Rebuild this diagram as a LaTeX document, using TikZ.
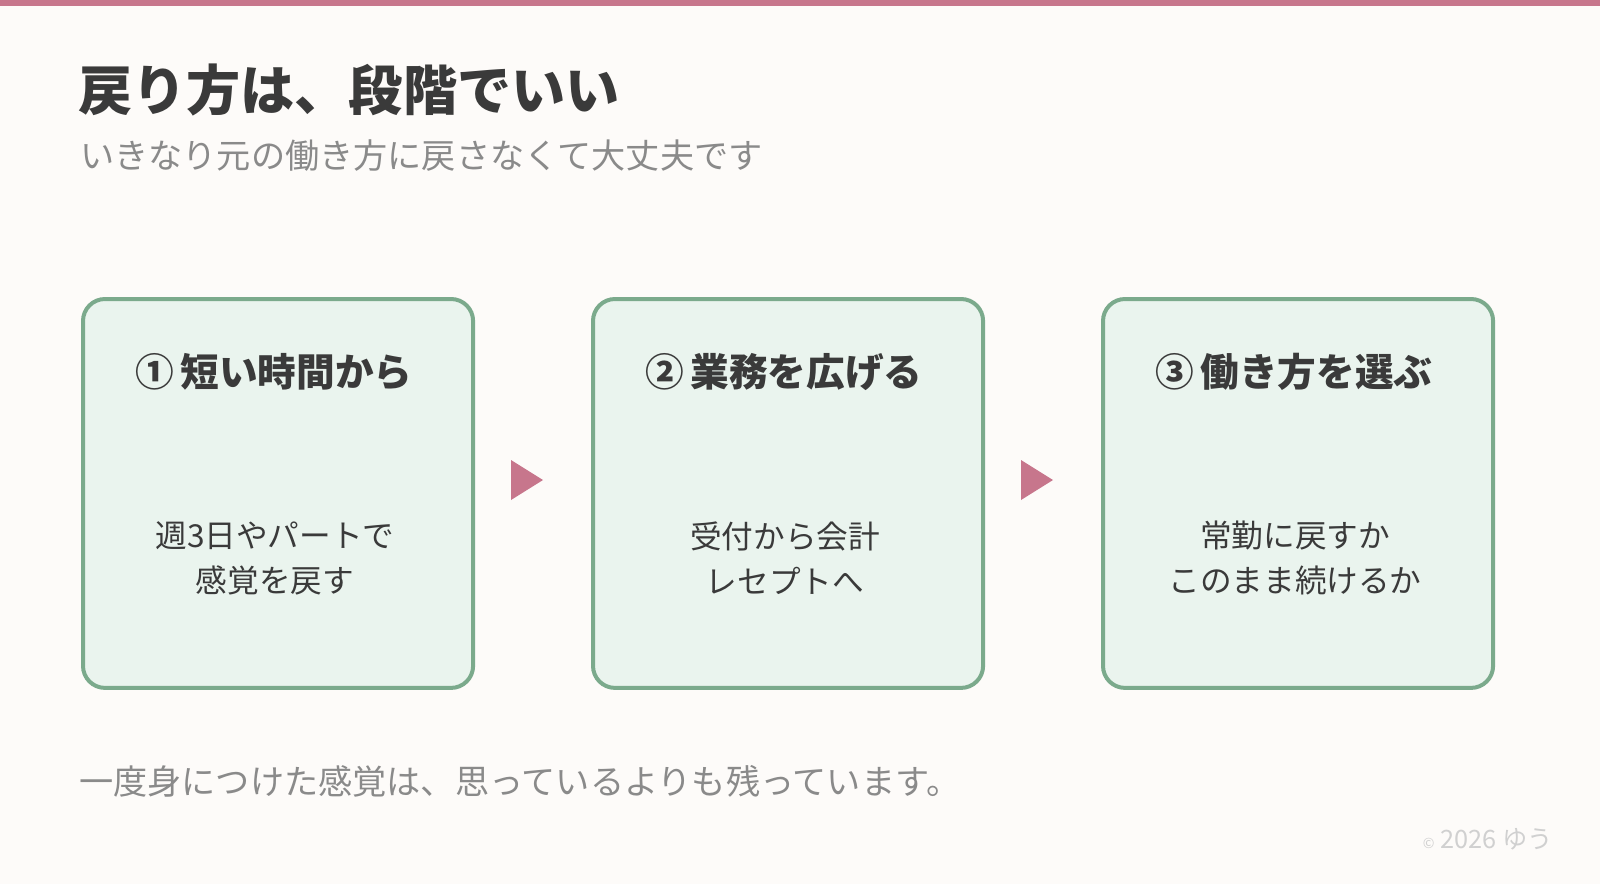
\documentclass[tikz,border=0pt]{standalone}
\usepackage{fontspec}
\setmainfont{Noto Sans CJK JP}
\usetikzlibrary{positioning}
\definecolor{bgc}{HTML}{FDFBF9}
\definecolor{rosec}{HTML}{C7768C}
\definecolor{inkc}{HTML}{3A3A3A}
\definecolor{grayc}{HTML}{8A8A8A}
\definecolor{paleg}{HTML}{D0D0D0}
\definecolor{stepfill}{HTML}{EAF4EE}
\definecolor{stepline}{HTML}{7BAA8C}
\tikzset{
  stepbox/.style={draw=stepline, fill=stepfill, line width=0.1cm, rounded corners=0.55cm,
    minimum width=9.75cm, minimum height=9.72cm, anchor=north west},
  steptitle/.style={font=\fontsize{27.5}{32}\selectfont\bfseries, text=inkc},
  stepbody/.style={font=\fontsize{22.5}{32}\selectfont, text=inkc, align=center},
  nexttri/.style={fill=rosec}
}
\begin{document}
\begin{tikzpicture}[x=0.025cm,y=-0.025cm]

        % Background and top band
        \fill[bgc] (0,0) rectangle (1600,884);
        \fill[rosec] (0,0) rectangle (1600,6);
        \useasboundingbox (0,0) rectangle (1600,884);

        % Headings
        \node[anchor=base west, inner sep=0, text=inkc, font=\fontsize{38.5}{44}\selectfont\bfseries] (title) at (78,110) {戻り方は、段階でいい};
        \node[anchor=base west, inner sep=0, text=grayc, font=\fontsize{24.3}{29}\selectfont] (subtitle) at (80,168) {いきなり元の働き方に戻さなくて大丈夫です};

        % Steps
        \node[stepbox] (boxA) at (81,297) {};
        \node[stepbox] (boxB) at (591,297) {};
        \node[stepbox] (boxC) at (1101,297) {};

        \node[steptitle] (titleA) at (274,372) {①\,短い時間から};
        \node[steptitle] (titleB) at (784,372) {②\,業務を広げる};
        \node[steptitle] (titleC) at (1294,372) {③\,働き方を選ぶ};

        \node[stepbody] (bodyA) at (275,558) {週3日やパートで\\感覚を戻す};
        \node[stepbody] (bodyB) at (785,558) {受付から会計\\レセプトへ};
        \node[stepbody] (bodyC) at (1295,558) {常勤に戻すか\\このまま続けるか};

        % Arrows between steps
        \fill[nexttri] (511,460) -- (543,480) -- (511,500) -- cycle;
        \fill[nexttri] (1021,460) -- (1053,480) -- (1021,500) -- cycle;

        % Footer
        \node[anchor=base west, inner sep=0, text=grayc, font=\fontsize{24.3}{29}\selectfont] (note) at (79,794) {一度身につけた感覚は、思っているよりも残っています。};
        \node[anchor=base east, inner sep=0, text=paleg, font=\fontsize{18}{21}\selectfont] (credit) at (1553,848) {{\fontsize{10}{12}\selectfont ©}\ 2026 ゆう};

    \end{tikzpicture}
\end{document}
